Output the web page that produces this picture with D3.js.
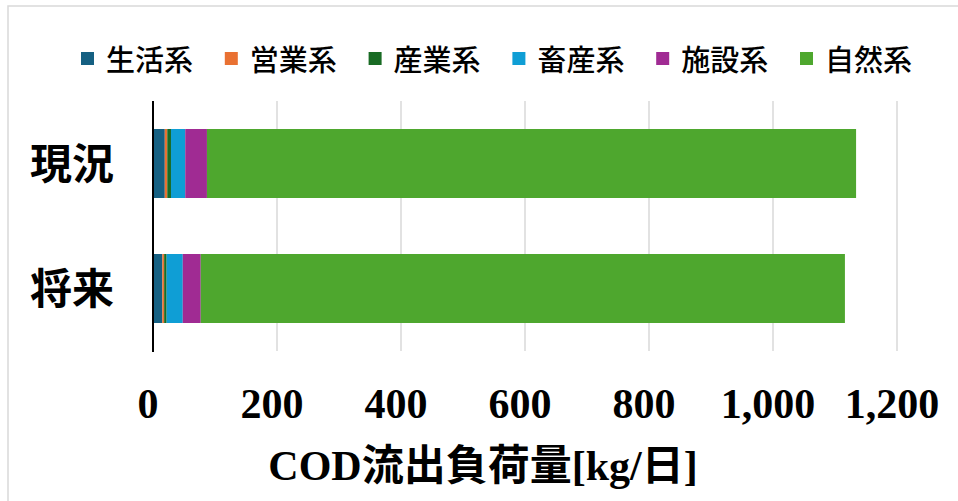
<!DOCTYPE html>
<html>
<head>
<meta charset="utf-8">
<script src="https://cdn.jsdelivr.net/npm/d3@7"></script>
<style>
  html, body { margin: 0; padding: 0; background: #fff; }
  svg { display: block; }
</style>
</head>
<body>
<svg id="chart" width="958" height="501"></svg>
<script>
// COD load by source, current vs. future (kg/day)
const categories = ["現況", "将来"];
const seriesNames = ["生活系", "営業系", "産業系", "畜産系", "施設系", "自然系"];
const seriesColors = ["#156082", "#E97132", "#196B24", "#0F9ED5", "#A02B93", "#4EA72E"];
const seriesValues = [
  [19, 15],     // 生活系
  [4, 3],       // 営業系
  [6, 4],       // 産業系
  [23, 26],     // 畜産系
  [35, 29],     // 施設系
  [1047, 1039]  // 自然系
];
const tickValues = [0, 200, 400, 600, 800, 1000, 1200];
const axisTitle = "COD流出負荷量[kg/日]";

const svg = d3.select("#chart");
const plot = { left: 153, right: 897, top: 101, bottom: 351 };

// chart frame
svg.append("rect")
  .attr("x", 8).attr("y", 6)
  .attr("width", 1000).attr("height", 600)
  .attr("fill", "none").attr("stroke", "#d9d9d9").attr("stroke-width", 1.5);

const x = d3.scaleLinear().domain([0, 1200]).range([plot.left, plot.right]);
const y = d3.scaleBand().domain(categories)
  .range([plot.top, plot.bottom])
  .paddingInner(0.448).paddingOuter(0.224);

// gridlines
svg.append("g")
  .selectAll("line")
  .data(tickValues.filter(t => t > 0))
  .join("line")
  .attr("x1", d => x(d)).attr("x2", d => x(d))
  .attr("y1", plot.top).attr("y2", plot.bottom)
  .attr("stroke", "#d9d9d9").attr("stroke-width", 1.5);

// stacked data
const rows = categories.map((c, i) => {
  const r = { category: c };
  seriesNames.forEach((s, j) => { r[s] = seriesValues[j][i]; });
  return r;
});
const stacked = d3.stack().keys(seriesNames)(rows);

svg.append("g")
  .selectAll("g")
  .data(stacked)
  .join("g")
  .attr("fill", (d, i) => seriesColors[i])
  .selectAll("rect")
  .data(d => d)
  .join("rect")
  .attr("x", d => x(d[0]))
  .attr("width", d => x(d[1]) - x(d[0]))
  .attr("y", d => y(d.data.category))
  .attr("height", y.bandwidth());

// vertical category axis line
svg.append("line")
  .attr("x1", x(0)).attr("x2", x(0))
  .attr("y1", plot.top).attr("y2", plot.bottom + 1)
  .attr("stroke", "#000").attr("stroke-width", 2);

// category labels
svg.append("g")
  .selectAll("text")
  .data(categories)
  .join("text")
  .attr("x", 114)
  .attr("y", d => y(d) + y.bandwidth() / 2 - 3)
  .attr("text-anchor", "end")
  .attr("dominant-baseline", "central")
  .attr("font-family", "'Noto Sans CJK JP', sans-serif")
  .attr("font-weight", 700)
  .attr("font-size", 42)
  .attr("fill", "#000")
  .text(d => d);

// value axis tick labels
const fmt = d3.format(",");
svg.append("g")
  .selectAll("text")
  .data(tickValues)
  .join("text")
  .attr("x", d => x(d) - 5)
  .attr("y", 418)
  .attr("text-anchor", "middle")
  .attr("font-family", "'Liberation Serif', serif")
  .attr("font-weight", 700)
  .attr("font-size", 42)
  .attr("fill", "#000")
  .text(d => fmt(d));

// axis title
svg.append("text")
  .attr("x", 483)
  .attr("y", 480)
  .attr("text-anchor", "middle")
  .attr("font-family", "'Liberation Serif', 'Noto Sans CJK JP', serif")
  .attr("font-weight", 700)
  .attr("font-size", 42)
  .attr("fill", "#000")
  .text(axisTitle);

// legend
const legend = svg.append("g")
  .selectAll("g")
  .data(seriesNames)
  .join("g")
  .attr("transform", (d, i) => `translate(${81 + i * 143.8},52)`);
legend.append("rect")
  .attr("width", 13).attr("height", 13)
  .attr("fill", (d, i) => seriesColors[i]);
legend.append("text")
  .attr("x", 25)
  .attr("y", 6)
  .attr("dominant-baseline", "central")
  .attr("font-family", "'Noto Sans CJK JP', sans-serif")
  .attr("font-weight", 500)
  .attr("font-size", 29)
  .attr("fill", "#000")
  .text(d => d);
</script>
</body>
</html>
